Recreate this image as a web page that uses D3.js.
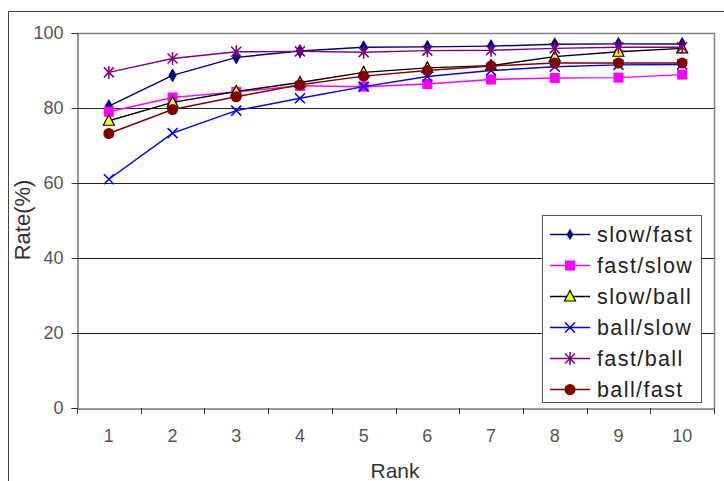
<!DOCTYPE html>
<html>
<head>
<meta charset="utf-8">
<script src="https://cdn.jsdelivr.net/npm/d3@7"></script>
<style>
  html, body { margin: 0; padding: 0; background: #fff; }
  svg { display: block; }
  text { font-family: "Liberation Sans", Arial, sans-serif; }
</style>
</head>
<body>
<svg id="chart" width="724" height="481"></svg>
<script>
// Recognition rate by rank for each train/test speed pairing
const ranks = [1, 2, 3, 4, 5, 6, 7, 8, 9, 10];
const yTicks = [0, 20, 40, 60, 80, 100];

const slowFast = [80.5, 88.7, 93.5, 95.2, 96.2, 96.3, 96.5, 97.0, 97.1, 97.1];
const fastSlow = [79.0, 82.8, 84.3, 85.9, 85.7, 86.4, 87.6, 88.0, 88.1, 88.9];
const slowBall = [76.6, 81.5, 84.4, 86.8, 89.5, 90.7, 91.3, 93.7, 95.0, 95.9];
const ballSlow = [61.0, 73.3, 79.3, 82.6, 85.7, 88.4, 90.0, 91.0, 91.5, 91.6];
const fastBall = [89.5, 93.2, 95.0, 95.1, 94.9, 95.3, 95.4, 95.9, 96.2, 96.2];
const ballFast = [73.2, 79.6, 83.0, 86.2, 88.5, 90.0, 91.2, 92.0, 92.0, 92.0];

const series = [
  { name: "slow/fast", values: slowFast, color: "#000080", marker: "diamond" },
  { name: "fast/slow", values: fastSlow, color: "#ff00ff", marker: "square" },
  { name: "slow/ball", values: slowBall, color: "#000000", marker: "triangle" },
  { name: "ball/slow", values: ballSlow, color: "#0000ff", marker: "cross" },
  { name: "fast/ball", values: fastBall, color: "#800080", marker: "star" },
  { name: "ball/fast", values: ballFast, color: "#800000", marker: "circle" }
];

const svg = d3.select("#chart");
const plot = { left: 77, right: 714, top: 33, bottom: 408 };

const x = d3.scaleBand().domain(ranks).range([plot.left, plot.right]).padding(0);
const y = d3.scaleLinear().domain([0, 100]).range([plot.bottom, plot.top]);
const cx = r => x(r) + x.bandwidth() / 2;

// outer frame
svg.append("path")
  .attr("d", `M8.5,481 V11.5 H724`)
  .attr("fill", "none").attr("stroke", "#444").attr("stroke-width", 1);

// horizontal gridlines
svg.append("g").selectAll("line")
  .data(yTicks.filter(t => t > 0 && t < 100))
  .join("line")
  .attr("x1", plot.left).attr("x2", plot.right)
  .attr("y1", d => Math.round(y(d)) + 0.5).attr("y2", d => Math.round(y(d)) + 0.5)
  .attr("stroke", "#222").attr("stroke-width", 1);

// plot area border (top and right)
svg.append("path")
  .attr("d", `M${plot.left},${plot.top + 0.5} H${plot.right + 0.5} V${plot.bottom}`)
  .attr("fill", "none").attr("stroke", "#808080").attr("stroke-width", 1.5);

// y axis
const yAxis = svg.append("g")
  .attr("transform", `translate(${plot.left + 0.5},0)`)
  .call(d3.axisLeft(y).tickValues(yTicks).tickSize(6).tickPadding(8));
yAxis.select(".domain").attr("stroke", "#333");
yAxis.selectAll(".tick line").attr("stroke", "#333");
yAxis.selectAll(".tick text")
  .attr("font-size", 18).attr("fill", "#555")
  .attr("font-family", "'Liberation Sans', Arial, sans-serif");

// x axis: labels centered in bands, ticks on band boundaries
const xAxis = svg.append("g")
  .attr("transform", `translate(0,${plot.bottom + 0.5})`)
  .call(d3.axisBottom(x).tickSize(0).tickPadding(21));
xAxis.select(".domain").attr("stroke", "#777").attr("stroke-width", 1.5);
xAxis.selectAll(".tick text")
  .attr("font-size", 18).attr("fill", "#555")
  .attr("font-family", "'Liberation Sans', Arial, sans-serif");
svg.append("g").selectAll("line")
  .data(ranks.map(r => x(r)).concat([plot.right]))
  .join("line")
  .attr("x1", d => Math.round(d) + 0.5).attr("x2", d => Math.round(d) + 0.5)
  .attr("y1", plot.bottom).attr("y2", plot.bottom + 6)
  .attr("stroke", "#333");

// axis titles
svg.append("text")
  .attr("x", 395).attr("y", 478)
  .attr("text-anchor", "middle")
  .attr("font-size", 21).attr("fill", "#333")
  .text("Rank");
svg.append("text")
  .attr("transform", "translate(30,220) rotate(-90)")
  .attr("text-anchor", "middle")
  .attr("font-size", 22).attr("fill", "#333")
  .text("Rate(%)");

// marker drawing
function drawMarker(g, type, color, small) {
  switch (type) {
    case "diamond":
      g.append("path").attr("d", d3.symbol(d3.symbolDiamond, small ? 30 : 48)())
        .attr("fill", color).attr("stroke", color).attr("stroke-width", 0.8);
      break;
    case "square":
      g.append("rect").attr("x", -5).attr("y", -5).attr("width", 10).attr("height", 10)
        .attr("fill", color);
      break;
    case "triangle":
      g.append("path").attr("d", "M0,-6 L5.5,4.5 L-5.5,4.5 Z")
        .attr("fill", "#ffff00").attr("stroke", "#000").attr("stroke-width", 1.2);
      break;
    case "cross":
      g.append("path").attr("d", "M-5,-5 L5,5 M-5,5 L5,-5")
        .attr("stroke", color).attr("stroke-width", 1.5).attr("fill", "none");
      break;
    case "star":
      g.append("path").attr("d", "M-5,-5 L5,5 M-5,5 L5,-5 M0,-6.5 L0,6.5")
        .attr("stroke", color).attr("stroke-width", 1.5).attr("fill", "none");
      break;
    case "circle":
      g.append("circle").attr("r", 5.5).attr("fill", color);
      break;
  }
}

const line = d3.line().x((d, i) => cx(ranks[i])).y(d => y(d));

series.forEach(s => {
  const g = svg.append("g");
  g.append("path")
    .datum(s.values)
    .attr("d", line)
    .attr("fill", "none")
    .attr("stroke", s.color)
    .attr("stroke-width", 1.5);
  s.values.forEach((v, i) => {
    const m = g.append("g").attr("transform", `translate(${cx(ranks[i])},${y(v)})`);
    drawMarker(m, s.marker, s.color, false);
  });
});

// legend
const legend = svg.append("g");
legend.append("rect")
  .attr("x", 542.5).attr("y", 215.5).attr("width", 159).attr("height", 187)
  .attr("fill", "#fff").attr("stroke", "#555").attr("stroke-width", 1);
series.forEach((s, i) => {
  const yy = 234.5 + i * 31;
  legend.append("line")
    .attr("x1", 550).attr("x2", 590).attr("y1", yy).attr("y2", yy)
    .attr("stroke", s.color).attr("stroke-width", 1.5);
  const m = legend.append("g").attr("transform", `translate(570,${yy})`);
  drawMarker(m, s.marker, s.color, true);
  legend.append("text")
    .attr("x", 597).attr("y", yy + 7.5)
    .attr("font-size", 21.5).attr("fill", "#222")
    .attr("letter-spacing", 1.4)
    .text(s.name);
});
</script>
</body>
</html>
